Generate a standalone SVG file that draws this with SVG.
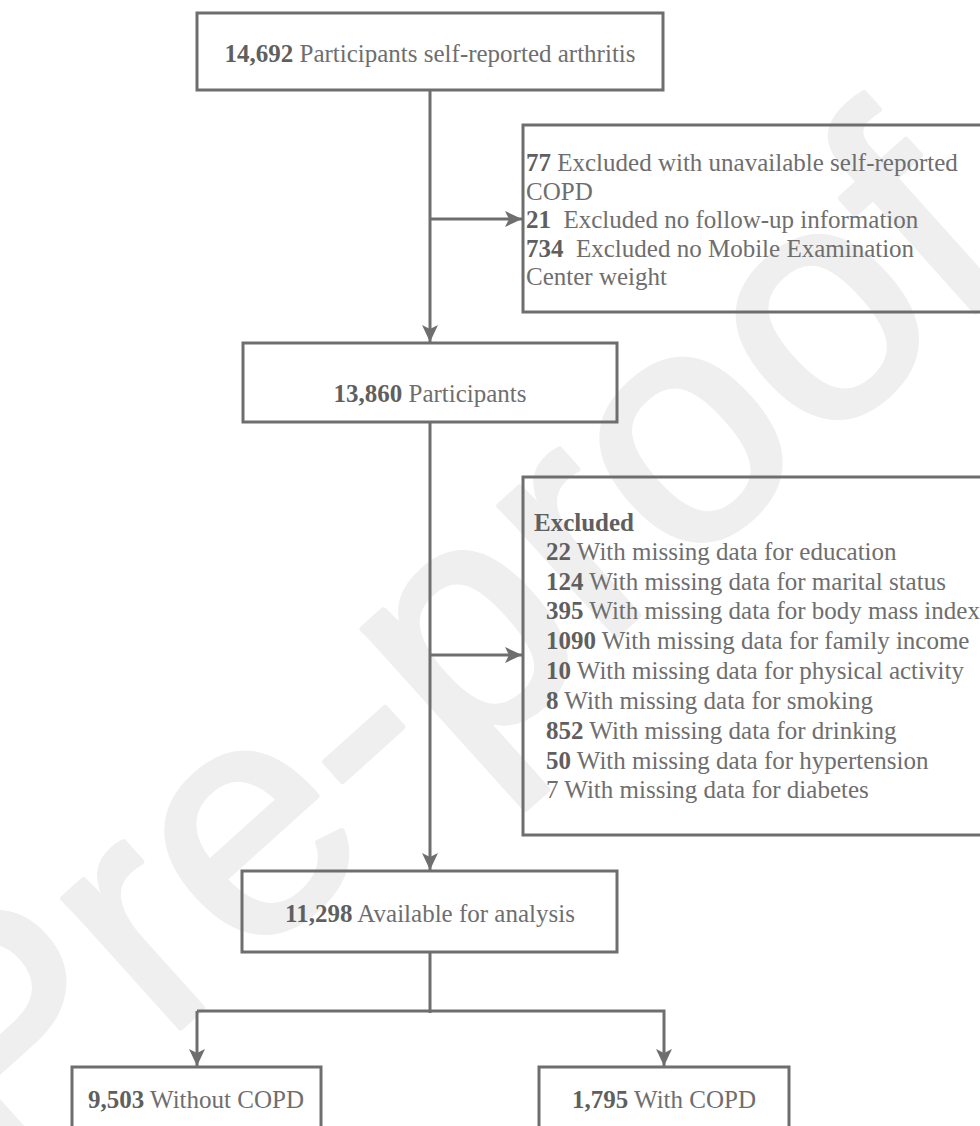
<svg xmlns="http://www.w3.org/2000/svg" width="980" height="1126" viewBox="0 0 980 1126">
<defs>
<style>
.box{fill:none;stroke:#6e6e6e;stroke-width:3}
.ln{fill:none;stroke:#6e6e6e;stroke-width:3}
.t{font-family:"Liberation Serif","Times New Roman",serif;font-size:25px;fill:#6e6e6e}
.b{font-weight:bold;fill:#5f5f5f}
.wm{font-family:"Liberation Sans",Arial,sans-serif;font-size:330px;fill:#efefef;stroke:#efefef;stroke-width:6;stroke-linejoin:round}
</style>
<marker id="ah" markerWidth="18" markerHeight="18" refX="17" refY="8.5" orient="auto" markerUnits="userSpaceOnUse">
<path d="M0,0.5 L17,8.5 L0,16.5 L4,8.5 z" fill="#6e6e6e"/>
</marker>
</defs>
<rect width="980" height="1126" fill="#ffffff"/>
<text class="wm" x="0" y="1190" transform="rotate(-42 0 1190)">Pre-proof</text>
<g id="connectors">
<line class="ln" x1="430" y1="90" x2="430" y2="342" marker-end="url(#ah)"/>
<line class="ln" x1="430" y1="219" x2="522" y2="219" marker-end="url(#ah)"/>
<line class="ln" x1="430" y1="422" x2="430" y2="870" marker-end="url(#ah)"/>
<line class="ln" x1="430" y1="655" x2="522" y2="655" marker-end="url(#ah)"/>
<line class="ln" x1="430" y1="953" x2="430" y2="1013"/>
<polyline class="ln" points="197,1011 664,1011 664,1066" marker-end="url(#ah)"/>
<line class="ln" x1="197" y1="1011" x2="197" y2="1066" marker-end="url(#ah)"/>
</g>
<g id="n1">
<rect class="box" x="197" y="13" width="466" height="77"/>
<text class="t" x="430" y="62" text-anchor="middle"><tspan class="b">14,692</tspan> Participants self-reported arthritis</text>
</g>
<g id="x1">
<rect class="box" x="523" y="125" width="470" height="187"/>
<text class="t" x="526" y="171"><tspan class="b">77</tspan> Excluded with unavailable self-reported</text>
<text class="t" x="526" y="199.5">COPD</text>
<text class="t" x="526" y="228" xml:space="preserve"><tspan class="b">21</tspan>  Excluded no follow-up information</text>
<text class="t" x="526" y="256.5" xml:space="preserve"><tspan class="b">734</tspan>  Excluded no Mobile Examination</text>
<text class="t" x="526" y="285">Center weight</text>
</g>
<g id="n2">
<rect class="box" x="243" y="343" width="374" height="79"/>
<text class="t" x="430" y="402" text-anchor="middle"><tspan class="b">13,860</tspan> Participants</text>
</g>
<g id="x2">
<rect class="box" x="523" y="477" width="470" height="358"/>
<text class="t b" x="534" y="531">Excluded</text>
<text class="t" x="546" y="560"><tspan class="b">22</tspan> With missing data for education</text>
<text class="t" x="546" y="589.5"><tspan class="b">124</tspan> With missing data for marital status</text>
<text class="t" x="546" y="618.5"><tspan class="b">395</tspan> With missing data for body mass index</text>
<text class="t" x="546" y="648.5"><tspan class="b">1090</tspan> With missing data for family income</text>
<text class="t" x="546" y="678.5"><tspan class="b">10</tspan> With missing data for physical activity</text>
<text class="t" x="546" y="708.5"><tspan class="b">8</tspan> With missing data for smoking</text>
<text class="t" x="546" y="738.5"><tspan class="b">852</tspan> With missing data for drinking</text>
<text class="t" x="546" y="768.5"><tspan class="b">50</tspan> With missing data for hypertension</text>
<text class="t" x="546" y="797.5">7 With missing data for diabetes</text>
</g>
<g id="n3">
<rect class="box" x="242" y="871" width="375" height="81"/>
<text class="t" x="430" y="922" text-anchor="middle"><tspan class="b">11,298</tspan> Available for analysis</text>
</g>
<g id="n4">
<rect class="box" x="72" y="1067" width="249" height="80"/>
<text class="t" x="196" y="1108" text-anchor="middle"><tspan class="b">9,503</tspan> Without COPD</text>
</g>
<g id="n5">
<rect class="box" x="539" y="1067" width="250" height="80"/>
<text class="t" x="664" y="1108" text-anchor="middle"><tspan class="b">1,795</tspan> With COPD</text>
</g>
</svg>
